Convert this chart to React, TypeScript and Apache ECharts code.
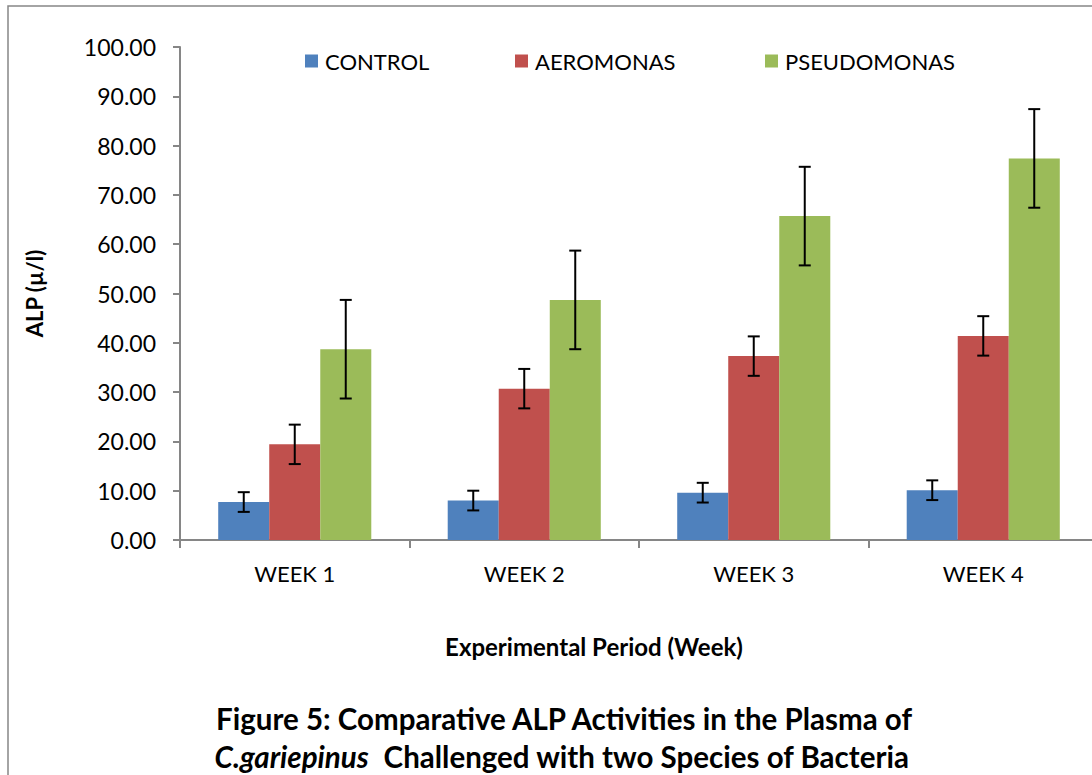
import React, { useEffect, useRef } from "react";
import * as echarts from "echarts";

const categories = ["WEEK 1", "WEEK 2", "WEEK 3", "WEEK 4"];
const seriesNames = ["CONTROL", "AEROMONAS", "PSEUDOMONAS"];
const controlValues = [7.7, 8.0, 9.6, 10.1];
const aeromonasValues = [19.4, 30.7, 37.3, 41.4];
const pseudomonasValues = [38.7, 48.7, 65.7, 77.4];
const controlErrors = [2.0, 2.0, 2.0, 2.0];
const aeromonasErrors = [4.0, 4.0, 4.0, 4.0];
const pseudomonasErrors = [10.0, 10.0, 10.0, 10.0];
const colors = ["#4F81BD", "#C0504D", "#9BBB59"];

const FONT = "Lato, 'Open Sans', sans-serif";
const GAP = 1 / 3;

export default function App() {
  const ref = useRef<HTMLDivElement>(null);
  useEffect(() => {
    if (!ref.current) return;
    const chart = echarts.init(ref.current, null, { renderer: "svg" });
    const values = [controlValues, aeromonasValues, pseudomonasValues];
    const errors = [controlErrors, aeromonasErrors, pseudomonasErrors];

    const barSeries = seriesNames.map((name, i) => ({
      name,
      type: "bar",
      data: values[i],
      itemStyle: { color: colors[i] },
      barGap: "0%",
      barCategoryGap: "33.3%",
    }));

    const errSeries = seriesNames.map((name, i) => ({
      name: name + "_err",
      type: "custom",
      z: 10,
      data: values[i].map((v, k) => [k, v, errors[i][k]]),
      encode: { x: 0, y: 1 },
      renderItem: (params: any, api: any) => {
        const cat = api.value(0);
        const v = api.value(1);
        const e = api.value(2);
        const band = api.size([1, 0])[0];
        const bw = (band * (1 - GAP)) / 3;
        const off = (i - 1) * bw;
        const top = api.coord([cat, v + e]);
        const bot = api.coord([cat, v - e]);
        const x = top[0] + off;
        const hw = 6;
        const style = { stroke: "#000", lineWidth: 2 };
        return {
          type: "group",
          children: [
            { type: "line", shape: { x1: x, y1: top[1], x2: x, y2: bot[1] }, style },
            { type: "line", shape: { x1: x - hw, y1: top[1], x2: x + hw, y2: top[1] }, style },
            { type: "line", shape: { x1: x - hw, y1: bot[1], x2: x + hw, y2: bot[1] }, style },
          ],
        };
      },
    }));

    const legendLefts = [300, 510, 760];
    const legends = seriesNames.map((name, i) => ({
      data: [name],
      left: legendLefts[i],
      top: 50,
      icon: "rect",
      itemWidth: 13,
      itemHeight: 13,
      itemGap: 0,
      textStyle: { fontFamily: FONT, fontSize: 22, color: "#000", padding: [0, 0, 0, 2] },
      selectedMode: false,
    }));
    legends.forEach((l) => (l.top = 45));

    chart.setOption({
      animation: false,
      backgroundColor: "#fff",
      legend: legends,
      grid: { left: 180, top: 47, width: 918, height: 493, containLabel: false },
      xAxis: {
        type: "category",
        data: categories,
        axisLine: { lineStyle: { color: "#868686", width: 2 } },
        axisTick: { show: true, length: 8, lineStyle: { color: "#868686", width: 2 }, alignWithLabel: false },
        axisLabel: { fontFamily: FONT, fontSize: 22, color: "#000", margin: 22 },
      },
      yAxis: {
        type: "value",
        min: 0,
        max: 100,
        interval: 10,
        splitLine: { show: false },
        axisLine: { show: true, lineStyle: { color: "#868686", width: 2 } },
        axisTick: { show: true, length: 7, lineStyle: { color: "#868686", width: 2 } },
        axisLabel: {
          fontFamily: FONT,
          fontSize: 23,
          color: "#000",
          margin: 24,
          formatter: (v: number) => v.toFixed(2),
        },
        name: "ALP (µ/l)",
        nameLocation: "middle",
        nameGap: 135,
        nameRotate: 90,
        nameTextStyle: { fontFamily: FONT, fontSize: 22, fontWeight: "bold", color: "#000" },
      },
      graphic: [
        {
          type: "rect",
          shape: { x: 8, y: 6, width: 1300, height: 1000 },
          style: { fill: "none", stroke: "#868686", lineWidth: 1.5 },
          silent: true,
        },
        {
          type: "text",
          x: 594,
          y: 646,
          style: {
            text: "Experimental Period (Week)",
            font: `bold 24px ${FONT}`,
            fill: "#000",
            align: "center",
            verticalAlign: "middle",
          },
        },
        {
          type: "text",
          x: 564,
          y: 718,
          style: {
            text: "Figure 5: Comparative ALP Activities in the Plasma of",
            font: `bold 29.5px ${FONT}`,
            fill: "#000",
            align: "center",
            verticalAlign: "middle",
          },
        },
        {
          type: "text",
          x: 562,
          y: 756,
          style: {
            text: "{i|C.gariepinus}  Challenged with two Species of Bacteria",
            font: `bold 29.5px ${FONT}`,
            fill: "#000",
            align: "center",
            verticalAlign: "middle",
            rich: {
              i: { font: `italic bold 29.5px ${FONT}`, fill: "#000" },
            },
          },
        },
      ],
      series: [...barSeries, ...errSeries],
    });
    return () => chart.dispose();
  }, []);

  return (
    <div style={{ position: "fixed", left: 0, top: 0, width: 1092, height: 775, overflow: "hidden", background: "#fff" }}>
      <div ref={ref} style={{ width: 1110, height: 775 }} />
    </div>
  );
}
